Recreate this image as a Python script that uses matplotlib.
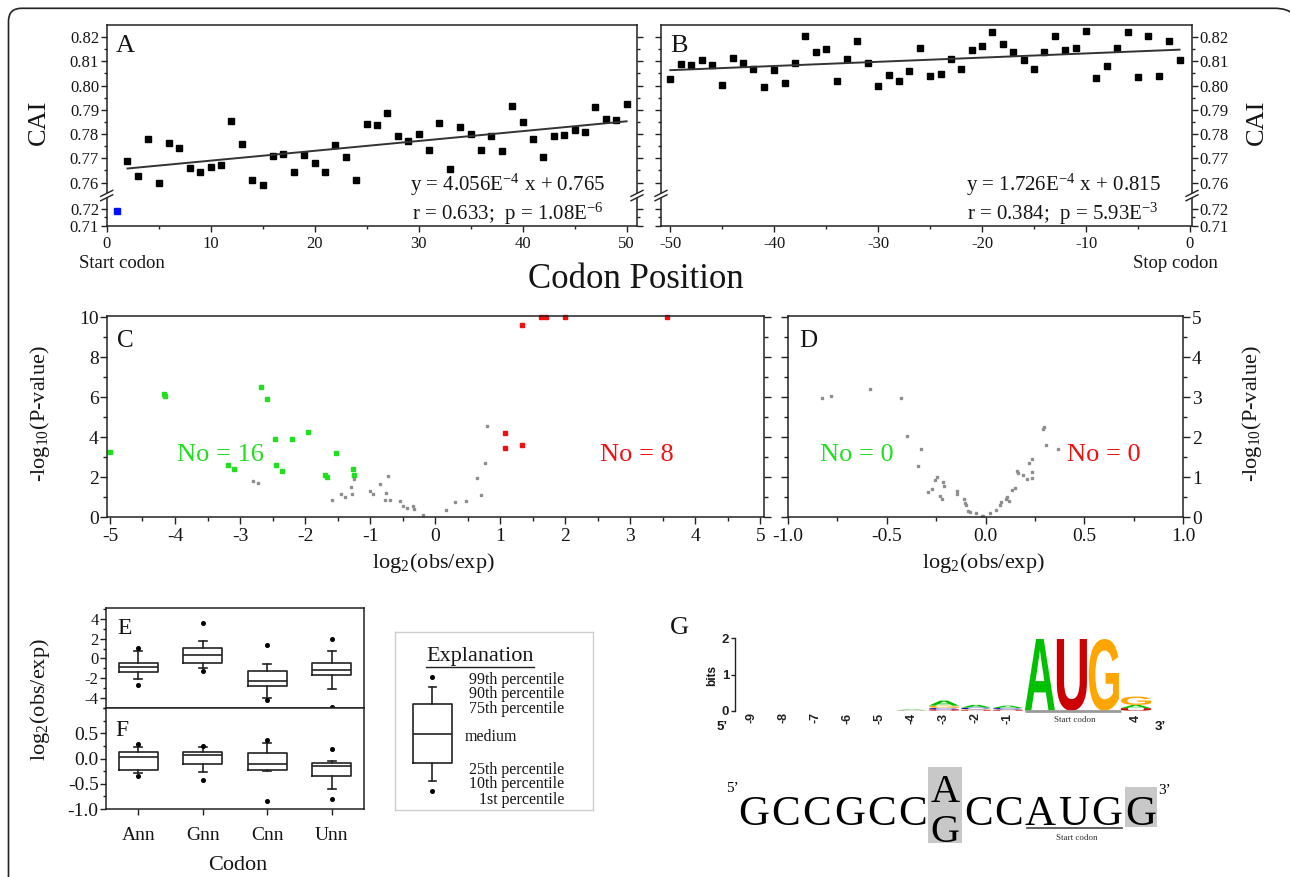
import numpy as np
import matplotlib
matplotlib.use("Agg")
import matplotlib.pyplot as plt
from matplotlib.patches import Rectangle, PathPatch
from matplotlib.path import Path
from matplotlib.lines import Line2D
from matplotlib.textpath import TextPath
from matplotlib.font_manager import FontProperties
from matplotlib.transforms import Affine2D, IdentityTransform
from matplotlib.ticker import FixedLocator, MultipleLocator, FormatStrFormatter, NullFormatter

plt.rcParams['font.family'] = ['Liberation Serif', 'DejaVu Serif']
plt.rcParams['mathtext.fontset'] = 'stix'
plt.rcParams['axes.unicode_minus'] = False
TXT = '#151515'
INK = '#222222'

# ---------------- data ----------------
posA = list(range(1, 51))
caiA = [0.7188, 0.7689, 0.7627, 0.7780, 0.7593, 0.7763, 0.7743, 0.7660, 0.7645, 0.7664,
        0.7674, 0.7852, 0.7760, 0.7609, 0.7565, 0.7708, 0.7719, 0.7644, 0.7714, 0.7681,
        0.7644, 0.7754, 0.7704, 0.7612, 0.7843, 0.7836, 0.7887, 0.7791, 0.7770, 0.7802,
        0.7733, 0.7844, 0.7655, 0.7829, 0.7799, 0.7736, 0.7791, 0.7730, 0.7914, 0.7851,
        0.7781, 0.7705, 0.7792, 0.7796, 0.7817, 0.7808, 0.7912, 0.7862, 0.7859, 0.7924]
posB = list(range(-50, 0))
caiB = [0.8028, 0.8090, 0.8087, 0.8104, 0.8083, 0.8001, 0.8113, 0.8094, 0.8069, 0.7994,
        0.8063, 0.8010, 0.8093, 0.8204, 0.8137, 0.8152, 0.8021, 0.8111, 0.8186, 0.8093,
        0.7999, 0.8042, 0.8021, 0.8059, 0.8157, 0.8039, 0.8046, 0.8109, 0.8068, 0.8148,
        0.8162, 0.8221, 0.8170, 0.8138, 0.8104, 0.8067, 0.8137, 0.8204, 0.8148, 0.8155,
        0.8227, 0.8032, 0.8080, 0.8157, 0.8221, 0.8035, 0.8203, 0.8038, 0.8184, 0.8104]
slopeA, interceptA = 4.056e-4, 0.765
slopeB, interceptB = 1.726e-4, 0.815
cai_major = [0.71, 0.72, 0.76, 0.77, 0.78, 0.79, 0.80, 0.81, 0.82]
cai_minor = [0.715, 0.765, 0.775, 0.785, 0.795, 0.805, 0.815]

c_green_x = [-5.0, -4.17, -4.15, -2.68, -2.58, -2.47, -2.20, -1.95, -2.45, -2.35,
             -3.18, -3.10, -1.52, -1.70, -1.67, -1.27, -1.25]
c_green_y = [3.23, 6.17, 6.07, 6.49, 5.88, 3.90, 3.90, 4.25, 2.61, 2.30,
             2.61, 2.42, 3.18, 2.10, 2.02, 2.40, 2.10]
c_red_x = [1.33, 1.62, 1.71, 2.00, 3.56, 1.07, 1.08, 1.34]
c_red_y = [9.61, 10.0, 10.0, 10.0, 10.0, 4.20, 3.45, 3.61]
c_grey_x = [-2.80, -2.73, -1.58, -1.45, -1.39, -1.30, -1.28, -1.27, -1.25, -1.00,
            -0.96, -0.85, -0.73, -0.75, -0.77, -0.70, -0.54, -0.50, -0.43, -0.34,
            -0.33, -0.18, 0.17, 0.30, 0.47, 0.64, 0.70, 0.76, 0.79]
c_grey_y = [1.80, 1.68, 0.87, 1.13, 1.01, 1.50, 1.13, 2.05, 1.88, 1.29,
            1.13, 1.63, 2.05, 1.21, 0.87, 0.87, 0.79, 0.57, 0.45, 0.54,
            0.40, 0.12, 0.34, 0.76, 0.82, 1.93, 1.08, 2.72, 4.54]
d_grey_x = [-0.829, -0.780, -0.586, -0.427, -0.400, -0.327, -0.341, -0.290, -0.273, -0.258,
            -0.244, -0.231, -0.222, -0.214, -0.209, -0.146, -0.146, -0.109, -0.104, -0.099,
            -0.089, -0.079, -0.048, -0.019, -0.011, 0.023, 0.053, 0.074, 0.077, 0.104,
            0.111, 0.121, 0.133, 0.150, 0.158, 0.163, 0.192, 0.209, 0.222, 0.234,
            0.236, 0.237, 0.290, 0.298, 0.305, 0.369]
d_grey_y = [2.97, 3.04, 3.21, 2.97, 2.03, 1.70, 1.28, 0.62, 0.71, 0.92,
            1.01, 0.52, 0.44, 0.87, 0.77, 0.65, 0.58, 0.45, 0.35, 0.29,
            0.14, 0.13, 0.10, 0.03, 0.02, 0.10, 0.18, 0.31, 0.37, 0.44,
            0.50, 0.39, 0.67, 0.73, 1.15, 1.11, 1.04, 0.94, 1.34, 1.45,
            1.13, 0.98, 2.20, 2.24, 1.80, 1.70]
count_C = (16, 8)
count_D = (0, 0)

codons = ['Ann', 'Gnn', 'Cnn', 'Unn']
E_p1 = [-2.70, -1.27, -4.20, -4.85]
E_p10 = [-2.10, -1.00, -4.03, -3.10]
E_q1 = [-1.33, -0.50, -2.77, -1.67]
E_med = [-0.90, 0.33, -2.30, -1.17]
E_q3 = [-0.50, 1.07, -1.27, -0.50]
E_p90 = [0.73, 1.73, -0.60, 0.80]
E_p99 = [1.07, 3.57, 1.33, 2.00]
F_p1 = [-0.34, -0.42, -0.85, -0.80]
F_p10 = [-0.29, -0.27, -0.25, -0.60]
F_q1 = [-0.22, -0.10, -0.23, -0.35]
F_med = [0.02, 0.07, -0.10, -0.15]
F_q3 = [0.12, 0.13, 0.11, -0.09]
F_p90 = [0.23, 0.22, 0.30, -0.05]
F_p99 = [0.29, 0.24, 0.37, 0.19]
# schematic box of the explanation panel (axes fraction)
expl_stats = dict(p1=0.107, p10=0.165, q1=0.266, med=0.428, q3=0.595, p90=0.694, p99=0.750)
expl_labels = ['99th percentile', '90th percentile', '75th percentile', 'medium',
               '25th percentile', '10th percentile', '1st percentile']

logo_labels = ['-9', '-8', '-7', '-6', '-5', '-4', '-3', '-2', '-1', '', '', '', '4']
logo_stacks = [[], [], [], [], [],
               [('C', 0.008), ('G', 0.008), ('A', 0.016)],
               [('U', 0.035), ('C', 0.04), ('G', 0.065), ('A', 0.14)],
               [('U', 0.02), ('G', 0.02), ('C', 0.045), ('A', 0.075)],
               [('U', 0.02), ('G', 0.015), ('C', 0.04), ('A', 0.065)],
               [('A', 1.98)], [('U', 1.98)], [('G', 1.98)],
               [('U', 0.07), ('A', 0.09), ('G', 0.23)]]
logo_colors = {'A': '#00c000', 'U': '#cc0000', 'G': '#ffa500', 'C': '#0000cc'}
consensus_left = 'GCCGCC'
consensus_var = ('A', 'G')
consensus_right = 'CCAUG'
consensus_last = 'G'

# ---------------- figure ----------------
W, H = 1290, 877
fig = plt.figure(figsize=(W / 100, H / 100), dpi=100)


def px_axes(l, t, r, b):
    return fig.add_axes([l / W, 1 - b / H, (r - l) / W, (b - t) / H])


def ftext(x, y, s, **kw):
    kw.setdefault('color', TXT)
    return fig.text(x / W, 1 - y / H, s, **kw)


def style(ax, size, major=4.3, minor=2.5, pad=1.2):
    for sp in ax.spines.values():
        sp.set_linewidth(1.1)
        sp.set_color(INK)
    ax.tick_params(which='both', direction='out', width=1.0, colors=INK,
                   labelsize=size, labelcolor=TXT)
    ax.tick_params(which='major', length=major, pad=pad)
    ax.tick_params(which='minor', length=minor)


# outer frame: left and top edges, rounded corners; right edge lies off the canvas
TOP, LEFT, RIGHT, R1, R2 = H - 8.3, 8.5, 1300.0, 13.0, 25.0
frame_path = Path([(LEFT, -20), (LEFT, TOP - R1), (LEFT, TOP), (LEFT + R1, TOP),
                   (RIGHT - R2, TOP), (RIGHT, TOP), (RIGHT, TOP - R2), (RIGHT, -20)],
                  [Path.MOVETO, Path.LINETO, Path.CURVE3, Path.CURVE3,
                   Path.LINETO, Path.CURVE3, Path.CURVE3, Path.LINETO])
fig.add_artist(PathPatch(frame_path, transform=IdentityTransform(), fill=False,
                         ec='#222222', lw=1.2))

# ---- CAI axis with break ----
K_MID, OFF, K_LOW = 0.2675, 0.0293, 0.72


def fwd(y):
    y = np.asarray(y, dtype=float)
    return np.where(y >= 0.76, y - OFF,
                    np.where(y <= 0.72, 0.72 - (0.72 - y) * K_LOW, 0.72 + (y - 0.72) * K_MID))


def inv(d):
    d = np.asarray(d, dtype=float)
    top = 0.72 + 0.04 * K_MID
    return np.where(d >= top, d + OFF,
                    np.where(d <= 0.72, 0.72 - (0.72 - d) / K_LOW, 0.72 + (d - 0.72) / K_MID))


def add_break(ax, xf):
    pos = ax.get_position()
    wpx, hpx = pos.width * W, pos.height * H
    yd = ax.transData.transform((ax.get_xlim()[0], 0.74))[1]
    y0 = ax.transAxes.transform((0, 0))[1]
    yf = (yd - y0) / hpx
    ax.add_patch(Rectangle((xf - 3 / wpx, yf - 2.2 / hpx), 6 / wpx, 4.4 / hpx, transform=ax.transAxes,
                           fc='white', ec='none', clip_on=False, zorder=10))
    for off in (-2.2, 2.2):
        ax.plot([xf - 6 / wpx, xf + 6 / wpx], [yf + (off - 3) / hpx, yf + (off + 3) / hpx],
                transform=ax.transAxes, color=INK, lw=1.0, clip_on=False, zorder=11)


def cai_axes(ax, side, xlim):
    ax.set_yscale('function', functions=(fwd, inv))
    ax.set_xlim(*xlim)
    ax.set_ylim(0.71, 0.825)
    ax.yaxis.set_major_locator(FixedLocator(cai_major))
    ax.yaxis.set_minor_locator(FixedLocator(cai_minor))
    ax.yaxis.set_major_formatter(FormatStrFormatter('%.2f'))
    ax.yaxis.set_minor_formatter(NullFormatter())
    ax.xaxis.set_major_locator(MultipleLocator(10))
    ax.xaxis.set_minor_locator(MultipleLocator(5))
    style(ax, 12)
    ax.tick_params(axis='y', which='both', left=True, right=True,
                   labelleft=(side == 'left'), labelright=(side == 'right'))
    ax.tick_params(axis='x', which='both', top=False, pad=3)
    add_break(ax, 0.0)
    add_break(ax, 1.0)


# Panel A
axA = px_axes(106.7, 25, 637, 226)
cai_axes(axA, 'left', (0, 51.0))
axA.plot(posA[1:], caiA[1:], ls='none', marker='s', ms=4.6, color='black')
axA.plot(posA[:1], caiA[:1], ls='none', marker='s', ms=4.6, color='#0010ff')
xa = np.array([posA[1], posA[-1]])
axA.plot(xa, slopeA * xa + interceptA, color='#333333', lw=1.4)

# Panel B
axB = px_axes(661, 25, 1192, 226)
cai_axes(axB, 'right', (-50.9, 0.2))
axB.plot(posB, caiB, ls='none', marker='s', ms=4.6, color='black')
xb = np.array([posB[0], posB[-1]])
axB.plot(xb, slopeB * xb + interceptB, color='#333333', lw=1.4)

ftext(125, 46, 'A', fontsize=19, ha='center', va='center')
ftext(679, 46, 'B', fontsize=19, ha='center', va='center')
ftext(38.6, 122, 'CAI', fontsize=19, rotation=90, ha='center', va='center')
ftext(1257, 122, 'CAI', fontsize=19, rotation=90, ha='center', va='center')
ftext(508, 185, r'y = 4.056E$^{\mathregular{-4}}$ x + 0.765', fontsize=15, ha='center', va='center')
ftext(508, 214, r'r = 0.633;  p = 1.08E$^{\mathregular{-6}}$', fontsize=15, ha='center', va='center')
ftext(1063, 185, r'y = 1.726E$^{\mathregular{-4}}$ x + 0.815', fontsize=15, ha='center', va='center')
ftext(1063, 214, r'r = 0.384;  p = 5.93E$^{\mathregular{-3}}$', fontsize=15, ha='center', va='center')
ftext(122, 263, 'Start codon', fontsize=13.5, ha='center', va='center')
ftext(1175, 263, 'Stop codon', fontsize=13.5, ha='center', va='center')
ftext(635.5, 280, 'Codon Position', fontsize=25, ha='center', va='center')

# Panel C
GREEN, RED, GREY = '#1ee01e', '#f01010', '#8e8e8e'
axC = px_axes(106.7, 316, 763.7, 517)
axC.set_xlim(-5.05, 5.05)
axC.set_ylim(0, 10.05)
axC.plot(c_grey_x, c_grey_y, ls='none', marker='s', ms=2.0, color=GREY)
axC.plot(c_green_x, c_green_y, ls='none', marker='s', ms=2.8, color=GREEN, clip_on=False)
axC.plot(c_red_x, c_red_y, ls='none', marker='s', ms=2.8, color=RED, clip_on=False)
axC.xaxis.set_major_locator(MultipleLocator(1))
axC.xaxis.set_minor_locator(MultipleLocator(0.5))
axC.yaxis.set_major_locator(MultipleLocator(2))
axC.yaxis.set_minor_locator(MultipleLocator(1))
style(axC, 14, major=5, minor=3, pad=0.8)
axC.tick_params(axis='y', which='both', left=True, right=True, labelleft=True, labelright=False)
axC.tick_params(axis='x', which='both', top=False, pad=3)

# Panel D
axD = px_axes(788, 316, 1183, 517)
axD.set_xlim(-1.0, 1.0)
axD.set_ylim(0, 5.03)
axD.plot(d_grey_x, d_grey_y, ls='none', marker='s', ms=2.0, color=GREY)
axD.xaxis.set_major_locator(MultipleLocator(0.5))
axD.xaxis.set_minor_locator(MultipleLocator(0.25))
axD.xaxis.set_major_formatter(FormatStrFormatter('%.1f'))
axD.yaxis.set_major_locator(MultipleLocator(1))
axD.yaxis.set_minor_locator(MultipleLocator(0.5))
style(axD, 14, major=5, minor=3, pad=1.5)
axD.tick_params(axis='y', which='both', left=True, right=True, labelleft=False, labelright=True)
axD.tick_params(axis='x', which='both', top=False, pad=3)

ftext(125, 341, 'C', fontsize=18, ha='center', va='center')
ftext(808, 341, 'D', fontsize=18, ha='center', va='center')
ftext(40, 414, r'-log$_{\mathregular{10}}$(P-value)', fontsize=16, rotation=90, ha='center', va='center')
ftext(1252, 414, r'-log$_{\mathregular{10}}$(P-value)', fontsize=16, rotation=90, ha='center', va='center')
ftext(433, 563, r'log$_{\mathregular{2}}$(obs/exp)', fontsize=16, ha='center', va='center')
ftext(983, 563, r'log$_{\mathregular{2}}$(obs/exp)', fontsize=16, ha='center', va='center')
ftext(220, 455, f'No = {count_C[0]}', fontsize=19, ha='center', va='center', color=GREEN)
ftext(637, 455, f'No = {count_C[1]}', fontsize=19, ha='center', va='center', color=RED)
ftext(857, 455, f'No = {count_D[0]}', fontsize=19, ha='center', va='center', color=GREEN)
ftext(1104, 455, f'No = {count_D[1]}', fontsize=19, ha='center', va='center', color=RED)

# Panels E / F


def box_stats(p1, p10, q1, med, q3, p90, p99):
    return [dict(med=m, q1=a, q3=b, whislo=lo, whishi=hi, fliers=[f1, f99])
            for f1, lo, a, m, b, hi, f99 in zip(p1, p10, q1, med, q3, p90, p99)]


bprops = dict(boxprops=dict(color=INK, lw=1.2), whiskerprops=dict(color=INK, lw=1.2),
              capprops=dict(color=INK, lw=1.2), medianprops=dict(color=INK, lw=1.2),
              flierprops=dict(marker='o', ms=2.6, mfc='black', mec='black'))
xpos = [1, 2, 3, 4]
axE = px_axes(106, 608, 364, 708)
axE.bxp(box_stats(E_p1, E_p10, E_q1, E_med, E_q3, E_p90, E_p99), positions=xpos, widths=0.6,
        capwidths=0.13, manage_ticks=False, **bprops)
axE.set_xlim(0.5, 4.5)
axE.set_ylim(-5, 5.1)
axE.yaxis.set_major_locator(MultipleLocator(2))
axE.yaxis.set_minor_locator(MultipleLocator(1))
axE.yaxis.set_major_formatter(FormatStrFormatter('%d'))
style(axE, 12, major=4.3, minor=2.5, pad=1)
axE.tick_params(axis='x', which='both', bottom=False, top=False, labelbottom=False)

axF = px_axes(106, 708, 364, 809)
axF.bxp(box_stats(F_p1, F_p10, F_q1, F_med, F_q3, F_p90, F_p99), positions=xpos, widths=0.6,
        capwidths=0.13, manage_ticks=False, **bprops)
axF.set_xlim(0.5, 4.5)
axF.set_ylim(-1.0, 1.0)
axF.yaxis.set_major_locator(MultipleLocator(0.5))
axF.yaxis.set_minor_locator(MultipleLocator(0.25))
axF.yaxis.set_major_formatter(FormatStrFormatter('%.1f'))
axF.set_xticks(xpos)
axF.set_xticklabels(codons)
style(axF, 14, major=4.3, minor=2.5, pad=1)
axF.tick_params(axis='x', which='major', pad=9, labelsize=14)
axF.tick_params(axis='x', which='minor', bottom=False)
axF.set_yticks([-1.0, -0.5, 0.0, 0.5])

ftext(125, 629, 'E', fontsize=17, ha='center', va='center')
ftext(121.5, 731, 'F', fontsize=17, ha='center', va='center')
ftext(40, 700, r'log$_{\mathregular{2}}$(obs/exp)', fontsize=16, rotation=90, ha='center', va='center')
ftext(238, 866, 'Codon', fontsize=16, ha='center', va='center')

# Explanation panel
axX = px_axes(395.3, 632.3, 593, 810)
axX.set_xlim(0, 1)
axX.set_ylim(0, 1)
for sp in axX.spines.values():
    sp.set_color('#cfcfcf')
    sp.set_linewidth(1.0)
axX.set_xticks([])
axX.set_yticks([])
e = expl_stats
axX.bxp([dict(med=e['med'], q1=e['q1'], q3=e['q3'], whislo=e['p10'], whishi=e['p90'],
              fliers=[e['p1'], e['p99']])], positions=[0.188], widths=0.197, capwidths=0.04,
        manage_ticks=False, **bprops)
axX.text(0.428, 0.863, 'Explanation', fontsize=16, ha='center', va='center', color=TXT)
axX.plot([0.155, 0.703], [0.803, 0.803], color=INK, lw=1.0)
lab_y = [0.732, 0.653, 0.568, 0.411, 0.225, 0.146, 0.056]
for lab, yy in zip(expl_labels, lab_y):
    if lab == 'medium':
        axX.text(0.350, yy, lab, fontsize=11.5, ha='left', va='center', color=TXT)
    else:
        axX.text(0.855, yy, lab, fontsize=11.5, ha='right', va='center', color=TXT)

# Panel G: sequence logo
LOGO_FONT = FontProperties(family='Liberation Sans', weight='bold')


def draw_letter(ax, ch, xc, y0, w, h, color):
    tp = TextPath((0, 0), ch, size=1, prop=LOGO_FONT)
    bb = tp.get_extents()
    tr = (Affine2D().translate(-bb.x0, -bb.y0).scale(w / bb.width, h / bb.height)
          .translate(xc - w / 2, y0) + ax.transData)
    ax.add_patch(PathPatch(tp, transform=tr, fc=color, ec='none', clip_on=False))


axL = px_axes(734.6, 638.3, 1152.2, 710.7)
axL.set_xlim(-0.54, 12.51)
axL.set_ylim(0, 2)
for s in ['top', 'right', 'bottom']:
    axL.spines[s].set_visible(False)
axL.spines['left'].set_bounds(0, 2)
axL.spines['left'].set_linewidth(1.0)
axL.spines['left'].set_color(INK)
axL.set_xticks([])
axL.set_yticks([0, 1, 2])
axL.tick_params(axis='y', direction='out', length=3, width=1.0, pad=1, labelsize=9, colors=INK)
for t in axL.get_yticklabels():
    t.set_fontproperties(FontProperties(family='Liberation Sans', weight='bold', size=9.5))
for k, stack in enumerate(logo_stacks):
    y0 = 0.0
    for base, h in stack:
        draw_letter(axL, base, k, y0, 0.94, h, logo_colors[base])
        y0 += h
for k, lab in enumerate(logo_labels):
    if lab:
        axL.text(k, -0.10, lab, transform=axL.get_xaxis_transform(), rotation=90, ha='center',
                 va='center', fontsize=9, fontweight='bold', family='Liberation Sans', color=INK)
axL.plot([8.53, 11.53], [-0.01, -0.01], color='#9a9a9a', lw=2.0, clip_on=False, solid_capstyle='butt')
ftext(1075, 720, 'Start codon', fontsize=6.5, ha='center', va='center', color='#333333')
ftext(712.6, 675, 'bits', fontsize=8.5, rotation=90, ha='center', va='center',
      family='Liberation Sans', fontweight='bold')
ftext(722.5, 727, '5\u2019', fontsize=9.5, ha='center', va='center', family='Liberation Sans',
      fontweight='bold')
ftext(1160, 727, '3\u2019', fontsize=9.5, ha='center', va='center', family='Liberation Sans',
      fontweight='bold')
ftext(679.5, 628.5, 'G', fontsize=19, ha='center', va='center')

# consensus sequence
GREYBOX = '#c8c8c8'
fig.add_artist(Rectangle((927.7 / W, 1 - 842.7 / H), 34 / W, 76 / H, transform=fig.transFigure,
                         fc=GREYBOX, ec='none'))
fig.add_artist(Rectangle((1125 / W, 1 - 827.3 / H), 32.3 / W, 40 / H, transform=fig.transFigure,
                         fc=GREYBOX, ec='none'))
adv = {'G': 0.722, 'C': 0.667, 'A': 0.722, 'U': 0.722}


def place_run(seq, x_left, x_right, baseline, size):
    total = sum(adv[c] for c in seq)
    scale = (x_right - x_left) / total
    x = x_left
    for c in seq:
        w = adv[c] * scale
        ftext(x + w / 2, baseline, c, fontsize=size, ha='center', va='baseline', color='black')
        x += w


place_run(consensus_left, 736.7, 928.3, 825, 31)
place_run(consensus_right, 963.3, 1122.7, 825, 31)
ftext(944.7, 801.7, consensus_var[0], fontsize=29, ha='center', va='baseline', color='black')
ftext(944.7, 841.7, consensus_var[1], fontsize=29, ha='center', va='baseline', color='black')
ftext(1141.2, 825, consensus_last, fontsize=31, ha='center', va='baseline', color='black')
fig.add_artist(Line2D([1026.7 / W, 1121.7 / W], [1 - 827.8 / H, 1 - 827.8 / H],
                      transform=fig.transFigure, color='#555555', lw=1.3))
ftext(1077, 838.5, 'Start codon', fontsize=6.5, ha='center', va='center', color='#333333')
ftext(732.5, 788, '5\u2019', fontsize=11, ha='center', va='center', color='black')
ftext(1165, 790, '3\u2019', fontsize=11, ha='center', va='center', color='black')

fig.savefig('out.png', dpi=100)
